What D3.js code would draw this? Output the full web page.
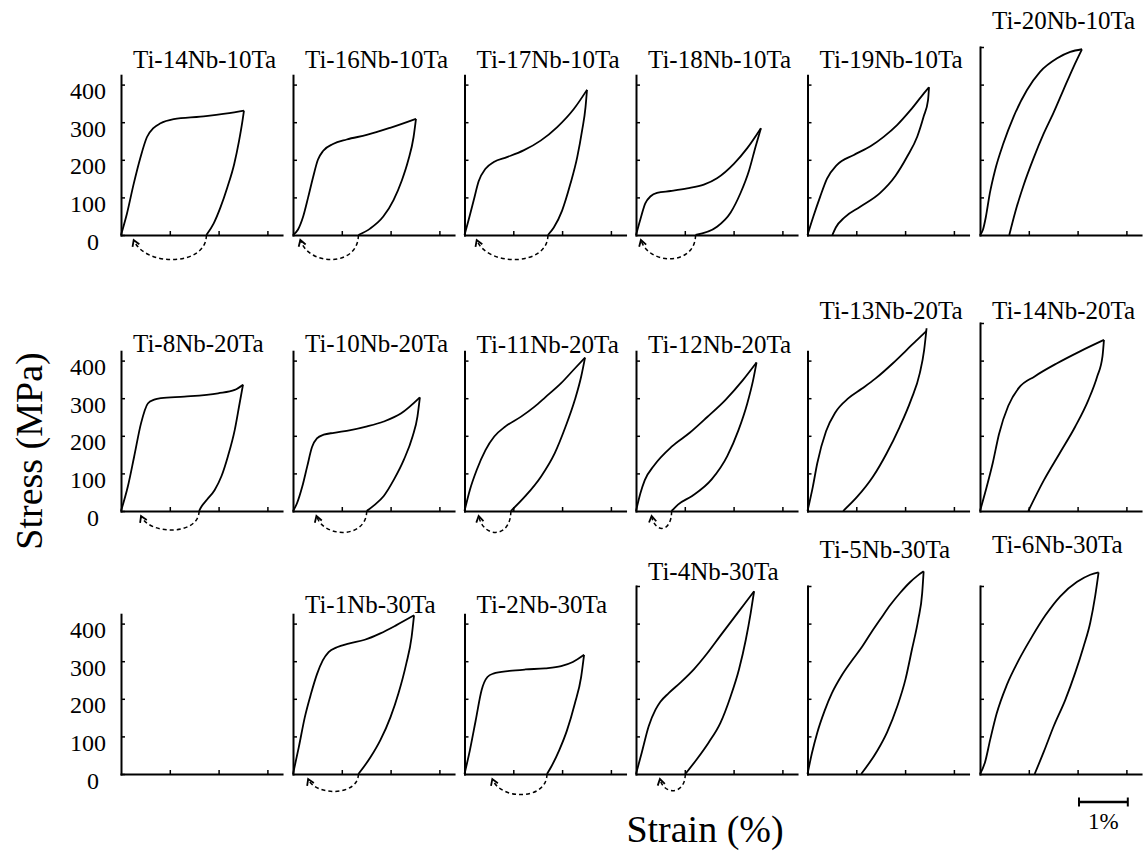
<!DOCTYPE html>
<html>
<head>
<meta charset="utf-8">
<script src="https://cdn.jsdelivr.net/npm/d3@7"></script>
<style>
  html, body { margin: 0; padding: 0; background: #fff; }
  svg { display: block; font-family: "Liberation Serif", "Times New Roman", serif; }
</style>
</head>
<body>
<svg id="chart" width="1145" height="853"></svg>
<script>
// ---------------- data ----------------
// Alloys in panel order, row by row (null = empty reference frame)
const alloys = [
  "Ti-14Nb-10Ta", "Ti-16Nb-10Ta", "Ti-17Nb-10Ta", "Ti-18Nb-10Ta", "Ti-19Nb-10Ta", "Ti-20Nb-10Ta",
  "Ti-8Nb-20Ta", "Ti-10Nb-20Ta", "Ti-11Nb-20Ta", "Ti-12Nb-20Ta", "Ti-13Nb-20Ta", "Ti-14Nb-20Ta",
  null, "Ti-1Nb-30Ta", "Ti-2Nb-30Ta", "Ti-4Nb-30Ta", "Ti-5Nb-30Ta", "Ti-6Nb-30Ta"
];

// Loading / unloading branches: [strain (%), stress (MPa)]
const ti14Nb10Ta_load   = [[0,0],[0.12,56],[0.26,136],[0.40,207],[0.53,260],[0.67,285],[0.81,297],[1.08,308],[1.63,315],[2.32,326],[2.52,331]];
const ti14Nb10Ta_unload = [[2.52,331],[2.49,304],[2.42,251],[2.32,189],[2.18,127],[2.04,74],[1.90,31],[1.75,0]];

const ti16Nb10Ta_load   = [[0,0],[0.10,14],[0.21,50],[0.31,100],[0.41,153],[0.51,200],[0.62,224],[0.82,242],[1.10,254],[1.51,266],[1.99,285],[2.52,309]];
const ti16Nb10Ta_unload = [[2.52,309],[2.47,260],[2.36,198],[2.23,145],[2.06,93],[1.85,49],[1.58,17],[1.34,0]];

const ti17Nb10Ta_load   = [[0,0],[0.08,38],[0.19,93],[0.29,143],[0.43,176],[0.60,194],[0.87,207],[1.21,225],[1.56,251],[1.90,287],[2.24,335],[2.51,386]];
const ti17Nb10Ta_unload = [[2.51,386],[2.48,340],[2.41,278],[2.31,207],[2.17,136],[2.00,65],[1.83,20],[1.71,0]];

const ti18Nb10Ta_load   = [[0,0],[0.09,42],[0.19,84],[0.30,103],[0.43,112],[0.71,117],[1.05,124],[1.39,134],[1.66,151],[2.01,190],[2.28,231],[2.56,284]];
const ti18Nb10Ta_unload = [[2.56,284],[2.45,235],[2.32,173],[2.14,111],[1.94,60],[1.66,22],[1.22,0]];

const ti19Nb10Ta_load   = [[0,0],[0.12,49],[0.26,102],[0.40,150],[0.60,186],[0.95,213],[1.29,236],[1.56,261],[1.84,293],[2.11,332],[2.38,376],[2.49,393]];
const ti19Nb10Ta_unload = [[2.49,393],[2.47,359],[2.38,315],[2.25,262],[2.04,208],[1.80,157],[1.49,112],[1.08,75],[0.76,47],[0.58,20],[0.51,0]];

const ti20Nb10Ta_load   = [[0,0],[0.06,14],[0.12,48],[0.20,110],[0.31,173],[0.48,244],[0.69,315],[0.96,385],[1.23,434],[1.58,470],[1.85,487],[2.09,494]];
const ti20Nb10Ta_unload = [[2.09,494],[1.92,448],[1.71,386],[1.51,326],[1.30,268],[1.10,205],[0.89,131],[0.72,60],[0.60,0]];

const ti8Nb20Ta_load    = [[0,0],[0.14,65],[0.27,145],[0.41,233],[0.55,286],[0.68,296],[0.82,300],[1.30,304],[1.99,313],[2.33,322],[2.50,336]];
const ti8Nb20Ta_unload  = [[2.50,336],[2.43,286],[2.33,215],[2.19,145],[2.06,93],[1.92,56],[1.76,30],[1.65,12],[1.60,0]];

const ti10Nb20Ta_load   = [[0,0],[0.08,20],[0.19,65],[0.29,118],[0.39,170],[0.49,193],[0.63,203],[0.84,208],[1.18,215],[1.52,225],[1.86,238],[2.21,259],[2.60,302]];
const ti10Nb20Ta_unload = [[2.60,302],[2.55,251],[2.45,198],[2.27,136],[2.07,84],[1.86,40],[1.66,15],[1.51,0]];

const ti11Nb20Ta_load   = [[0,0],[0.11,56],[0.25,109],[0.43,162],[0.61,198],[0.84,225],[1.16,251],[1.43,277],[1.66,303],[1.98,340],[2.26,379],[2.47,408]];
const ti11Nb20Ta_unload = [[2.47,408],[2.39,357],[2.26,295],[2.07,224],[1.85,154],[1.57,92],[1.25,40],[0.95,0]];

const ti12Nb20Ta_load   = [[0,0],[0.09,47],[0.18,82],[0.37,121],[0.73,171],[1.10,208],[1.46,250],[1.83,295],[2.19,348],[2.47,395]];
const ti12Nb20Ta_unload = [[2.47,395],[2.40,348],[2.28,286],[2.10,215],[1.87,146],[1.55,84],[1.15,40],[0.86,17],[0.73,0]];

const ti13Nb20Ta_load   = [[0,0],[0.11,65],[0.20,127],[0.38,212],[0.57,262],[0.84,300],[1.11,325],[1.39,352],[1.75,393],[2.03,428],[2.30,462],[2.44,479]];
const ti13Nb20Ta_unload = [[2.44,486],[2.39,428],[2.30,366],[2.12,295],[1.89,224],[1.62,153],[1.34,91],[1.02,38],[0.73,0]];

const ti14Nb20Ta_load   = [[0,0],[0.12,56],[0.26,127],[0.39,205],[0.58,280],[0.80,328],[1.12,358],[1.58,393],[2.04,424],[2.54,455]];
const ti14Nb20Ta_unload = [[2.54,455],[2.51,411],[2.40,357],[2.22,295],[1.95,224],[1.63,153],[1.31,82],[0.99,0]];

const ti1Nb30Ta_load    = [[0,0],[0.12,72],[0.24,150],[0.37,214],[0.49,265],[0.61,302],[0.73,324],[0.90,337],[1.14,347],[1.47,357],[1.79,374],[2.12,396],[2.48,422]];
const ti1Nb30Ta_unload  = [[2.48,422],[2.43,364],[2.32,293],[2.16,214],[2.00,152],[1.79,90],[1.59,45],[1.34,0]];

const ti2Nb30Ta_load    = [[0,0],[0.11,63],[0.23,143],[0.35,223],[0.47,258],[0.59,267],[0.92,274],[1.25,278],[1.65,281],[1.98,287],[2.22,298],[2.45,317]];
const ti2Nb30Ta_unload  = [[2.45,317],[2.39,258],[2.26,187],[2.10,116],[1.94,63],[1.78,20],[1.69,0]];

const ti4Nb30Ta_load    = [[0,0],[0.12,58],[0.26,127],[0.40,171],[0.50,192],[0.67,215],[0.91,243],[1.19,279],[1.46,321],[1.73,368],[2.01,416],[2.21,450],[2.42,486]];
const ti4Nb30Ta_unload  = [[2.42,486],[2.35,428],[2.25,357],[2.11,278],[1.94,207],[1.73,136],[1.49,84],[1.25,40],[1.01,0]];

const ti5Nb30Ta_load    = [[0,0],[0.09,55],[0.20,110],[0.35,168],[0.50,215],[0.70,262],[0.90,300],[1.10,335],[1.30,375],[1.50,413],[1.70,450],[1.90,482],[2.10,510],[2.25,527],[2.38,539]];
const ti5Nb30Ta_unload  = [[2.38,539],[2.35,481],[2.27,411],[2.14,331],[2.01,253],[1.84,180],[1.63,111],[1.43,62],[1.10,0]];

const ti6Nb30Ta_load    = [[0,0],[0.10,30],[0.21,92],[0.34,160],[0.55,237],[0.79,302],[1.06,364],[1.34,422],[1.64,472],[1.99,511],[2.26,530],[2.43,536]];
const ti6Nb30Ta_unload  = [[2.43,536],[2.36,473],[2.26,403],[2.12,338],[1.95,269],[1.75,198],[1.51,127],[1.31,60],[1.12,0]];

const loadingCurves = [
  ti14Nb10Ta_load, ti16Nb10Ta_load, ti17Nb10Ta_load, ti18Nb10Ta_load, ti19Nb10Ta_load, ti20Nb10Ta_load,
  ti8Nb20Ta_load, ti10Nb20Ta_load, ti11Nb20Ta_load, ti12Nb20Ta_load, ti13Nb20Ta_load, ti14Nb20Ta_load,
  null, ti1Nb30Ta_load, ti2Nb30Ta_load, ti4Nb30Ta_load, ti5Nb30Ta_load, ti6Nb30Ta_load
];
const unloadingCurves = [
  ti14Nb10Ta_unload, ti16Nb10Ta_unload, ti17Nb10Ta_unload, ti18Nb10Ta_unload, ti19Nb10Ta_unload, ti20Nb10Ta_unload,
  ti8Nb20Ta_unload, ti10Nb20Ta_unload, ti11Nb20Ta_unload, ti12Nb20Ta_unload, ti13Nb20Ta_unload, ti14Nb20Ta_unload,
  null, ti1Nb30Ta_unload, ti2Nb30Ta_unload, ti4Nb30Ta_unload, ti5Nb30Ta_unload, ti6Nb30Ta_unload
];

// Strain (%) that the shape-recovery arrow returns to on heating
const recoveryStrain = [0.26, 0.15, 0.25, 0.10, null, null,
                        0.41, 0.48, 0.29, 0.32, null, null,
                        null, 0.31, 0.57, 0.49, null, null];

// Top of each stress axis (MPa)
const stressAxisMax = [425, 425, 425, 425, 425, 500,
                       425, 425, 425, 425, 425, 500,
                       425, 425, 425, 500, 500, 500];

const stressTicks = [0, 100, 200, 300, 400, 500];
const strainTicks = [1, 2, 3];
const strainAxisMax = 3.3;
const scaleBarStrain = 1;

// ---------------- layout ----------------
const W = 1145, H = 853;
const colX = [121, 293, 464.5, 636, 807.5, 980];
const rowBase = [235, 511, 774];
const pxPerStrain = 48.8;   // px per 1 % strain
const pxPerMPa = 0.376;     // px per MPa
const titleBaseline = [68, 68, 68, 68, 68, 29,
                       352, 352, 353, 353, 319, 319,
                       null, 613, 613, 580, 558, 553];
const arcDepth = [30, 30, 30, 29, 0, 0,
                  23, 26, 26, 21, 0, 0,
                  0, 21, 25, 20, 0, 0];

const svg = d3.select("#chart").attr("viewBox", `0 0 ${W} ${H}`);
svg.append("rect").attr("width", W).attr("height", H).attr("fill", "#fff");

// monotone in strain: loading runs left→right, unloading is drawn from its
// strain-sorted copy so both branches stay smooth without overshoot
const line = d3.line().curve(d3.curveMonotoneX);
const sortedByStrain = arr => arr.slice().sort((a, b) => a[0] - b[0]);

alloys.forEach((name, i) => {
  const r = Math.floor(i / 6), c = i % 6;
  const x0 = colX[c], base = rowBase[r];
  const top = stressAxisMax[i];

  const x = d3.scaleLinear().domain([0, strainAxisMax]).range([x0, x0 + strainAxisMax * pxPerStrain]);
  const y = d3.scaleLinear().domain([0, top]).range([base, base - top * pxPerMPa]);

  const g = svg.append("g");
  const withLabels = c === 0;

  // stress axis
  const yAxis = d3.axisLeft(y)
    .tickValues(stressTicks.filter(v => v <= top && (withLabels || v > 0)))
    .tickSizeInner(-4).tickSizeOuter(0).tickPadding(15)
    .tickFormat(withLabels ? d3.format("d") : () => "");
  const ya = g.append("g").attr("transform", `translate(${x0},0)`).call(yAxis);
  ya.attr("font-size", null).attr("font-family", null);
  ya.select(".domain").attr("stroke", "#000").attr("stroke-width", 2).attr("stroke-linecap", "square");
  ya.selectAll(".tick line").attr("stroke", "#000").attr("stroke-width", 1.5);
  ya.selectAll(".tick text")
    .attr("fill", "#000").attr("font-size", 24).attr("dy", 14)
    .attr("dx", d => d === 0 ? -7 : 0);

  // strain axis
  const xAxis = d3.axisBottom(x).tickValues(strainTicks)
    .tickSizeInner(-4).tickSizeOuter(0).tickFormat(() => "");
  const xa = g.append("g").attr("transform", `translate(0,${base})`).call(xAxis);
  xa.select(".domain").attr("stroke", "#000").attr("stroke-width", 2).attr("stroke-linecap", "square");
  xa.selectAll(".tick line").attr("stroke", "#000").attr("stroke-width", 1.5);

  if (!name) return;

  // title
  g.append("text")
    .attr("x", x0 + 12).attr("y", titleBaseline[i])
    .attr("font-size", 25).attr("fill", "#000")
    .text(name);

  // stress–strain loop
  const pts = arr => arr.map(d => [x(d[0]), y(d[1])]);
  g.append("path").attr("d", line(pts(sortedByStrain(loadingCurves[i]))))
    .attr("fill", "none").attr("stroke", "#000").attr("stroke-width", 1.8);
  g.append("path").attr("d", line(pts(sortedByStrain(unloadingCurves[i]))))
    .attr("fill", "none").attr("stroke", "#000").attr("stroke-width", 1.8);

  // dashed recovery arc with arrowhead
  if (recoveryStrain[i] != null) {
    const un = unloadingCurves[i];
    const xr = x(un[un.length - 1][0]);
    const xe = x(recoveryStrain[i]);
    const w = xr - xe;
    const k = arcDepth[i] / 0.94;
    const tipY = base + 5;
    const c2x = xe + 0.15 * w, c2y = base + k;
    g.append("path")
      .attr("d", `M${xr},${base} C${xr},${base + k} ${c2x},${c2y} ${xe},${tipY}`)
      .attr("fill", "none").attr("stroke", "#000").attr("stroke-width", 1.5)
      .attr("stroke-dasharray", "4,3");
    const ang = Math.atan2(tipY - c2y, xe - c2x);
    const L = 7, spread = 0.55;
    const a1 = ang + Math.PI - spread, a2 = ang + Math.PI + spread;
    g.append("path")
      .attr("d", `M${xe + L * Math.cos(a1)},${tipY + L * Math.sin(a1)} L${xe},${tipY} L${xe + L * Math.cos(a2)},${tipY + L * Math.sin(a2)}`)
      .attr("fill", "none").attr("stroke", "#000").attr("stroke-width", 1.8);
  }
});

// axis titles
svg.append("text")
  .attr("transform", "translate(42,451) rotate(-90)")
  .attr("text-anchor", "middle").attr("font-size", 38).attr("fill", "#000")
  .text("Stress (MPa)");
svg.append("text")
  .attr("x", 705).attr("y", 842)
  .attr("text-anchor", "middle").attr("font-size", 38).attr("fill", "#000")
  .text("Strain (%)");

// 1 % strain scale bar
const sb = d3.scaleLinear().domain([0, scaleBarStrain]).range([1079, 1079 + scaleBarStrain * pxPerStrain]);
const sbg = svg.append("g").attr("stroke", "#000");
sbg.append("line").attr("x1", sb(0)).attr("x2", sb(scaleBarStrain)).attr("y1", 802).attr("y2", 802).attr("stroke-width", 2.5);
sbg.append("line").attr("x1", sb(0)).attr("x2", sb(0)).attr("y1", 797.5).attr("y2", 806.5).attr("stroke-width", 2);
sbg.append("line").attr("x1", sb(scaleBarStrain)).attr("x2", sb(scaleBarStrain)).attr("y1", 797.5).attr("y2", 806.5).attr("stroke-width", 2);
svg.append("text")
  .attr("x", (sb(0) + sb(scaleBarStrain)) / 2).attr("y", 829)
  .attr("text-anchor", "middle").attr("font-size", 23).attr("fill", "#000")
  .text(scaleBarStrain + "%");
</script>
</body>
</html>
